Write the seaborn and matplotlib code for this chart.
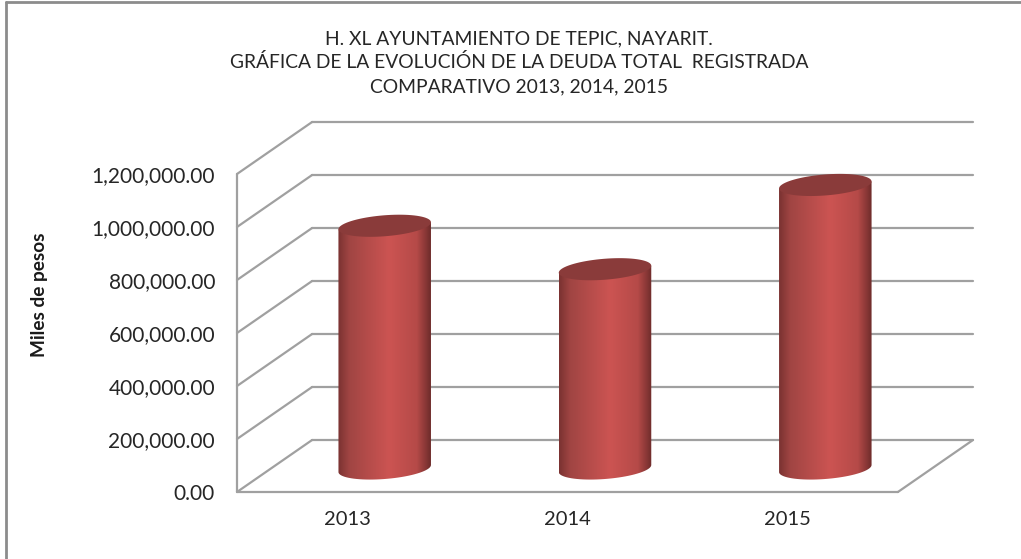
import matplotlib
matplotlib.use('Agg')
import matplotlib.pyplot as plt
from matplotlib.path import Path
from matplotlib.colors import LinearSegmentedColormap
import numpy as np
import pandas as pd
import seaborn as sns

# datos
years = ['2013', '2014', '2015']
deuda = [916000, 752000, 1070000]
y_ticks = [0, 200000, 400000, 600000, 800000, 1000000, 1200000]
titulo = ['H. XL AYUNTAMIENTO DE TEPIC, NAYARIT.',
          'GRÁFICA DE LA EVOLUCIÓN DE LA DEUDA TOTAL  REGISTRADA',
          'COMPARATIVO 2013, 2014, 2015']

sns.set_theme(style='white')
plt.rcParams['font.family'] = ['Lato', 'DejaVu Sans']

W, H = 1021, 559
fig = plt.figure(figsize=(W / 100, H / 100), dpi=100)

# ejes: pared frontal x 237..897, y 492..174 (pixeles), fondo +74/-52
px_x = 660 / 3
px_y = 318 / 1200000
dx = 75 / px_x
dy = 52 / px_y
ax = fig.add_axes([237 / W, 1 - 492 / H, (897 + 76 - 237) / W, (492 - 122) / H])

df = pd.DataFrame({'year': years, 'deuda': deuda})
sns.barplot(data=df, x='year', y='deuda', color='#b84a48', width=0.42, saturation=1, ax=ax, zorder=3)

grid = '#a0a0a0'
for v in y_ticks:
    ax.plot([-0.5, -0.5 + dx], [v, v + dy], color=grid, lw=1.6, zorder=1, clip_on=False)
    ax.plot([-0.5 + dx, 2.5 + dx], [v + dy, v + dy], color=grid, lw=1.6, zorder=1, clip_on=False)
ax.plot([2.5, 2.5 + dx], [0, dy], color=grid, lw=1.6, zorder=1, clip_on=False)

cyl = LinearSegmentedColormap.from_list('cyl', [(0, '#7a3231'), (0.12, '#a04543'), (0.55, '#cc5452'),
                                                (0.85, '#b54a48'), (1, '#6e2c2b')])
grad = np.linspace(0, 1, 256).reshape(1, -1)
h_el = 10.5 / px_y  # semieje vertical de la elipse
shear = 3.5 / px_y  # la elipse va inclinada
base = 23.5 / px_y
t = np.linspace(0, 2 * np.pi, 80)
for bar, v in zip(ax.patches, deuda):
    x0 = bar.get_x() + dx / 2
    w = bar.get_width()
    cx = x0 + w / 2
    bar.set_visible(False)
    # cuerpo del cilindro: elipse de abajo y tapa
    low = t[t >= np.pi]
    xs = cx + w / 2 * np.cos(low)
    ys = base + h_el * np.sin(low) + shear * np.cos(low)
    verts = list(zip(xs, ys)) + [(x0 + w, base + v + shear), (x0, base + v - shear), (xs[0], ys[0])]
    im = ax.imshow(grad, extent=[x0, x0 + w, base - 2 * h_el, base + v + 2 * h_el],
                   aspect='auto', cmap=cyl, zorder=3)
    im.set_clip_path(Path(verts), ax.transData)
    ax.fill(cx + w / 2 * np.cos(t), base + v + h_el * np.sin(t) + shear * np.cos(t),
            color='#8a3b3a', lw=0, zorder=4)

ax.set_xlim(-0.5, 2.5 + dx)
ax.set_ylim(0, 1200000 + dy)

for s in ax.spines.values():
    s.set_visible(False)
ax.set_xlabel('')
ax.set_ylabel('')
ax.set_yticks(y_ticks)
ax.set_yticklabels([f'{v:,.2f}' for v in y_ticks], fontsize=15, color='#262626')
ax.tick_params(axis='y', length=0, pad=15.8)
ax.tick_params(axis='x', length=0, pad=14, labelsize=14.5, labelcolor='#262626')
ax.set_xticks([0, 1, 2])

# eje frontal
ax.plot([-0.5, -0.5], [0, 1200000], color=grid, lw=1.6, zorder=2, clip_on=False)
ax.plot([-0.5, 2.5], [0, 0], color=grid, lw=1.6, zorder=2, clip_on=False)

fig.text(39 / W, 1 - 295 / H, 'Miles de pesos', rotation=90, fontsize=13.7, fontweight='bold',
         color='#1a1a1a', ha='center', va='center')
for linea, y in zip(titulo, [39, 62, 87]):
    fig.text(519 / W, 1 - y / H, linea, fontsize=13.9, color='#262626', ha='center', va='center')

# marco del grafico
frame = '#8c8c8c'
fig.add_artist(plt.Line2D([6 / W, 6 / W], [0, 1 - 2 / H], color=frame, lw=2))
fig.add_artist(plt.Line2D([6 / W, 1], [1 - 2 / H, 1 - 2 / H], color=frame, lw=2))

fig.savefig('out.png', dpi=100)
